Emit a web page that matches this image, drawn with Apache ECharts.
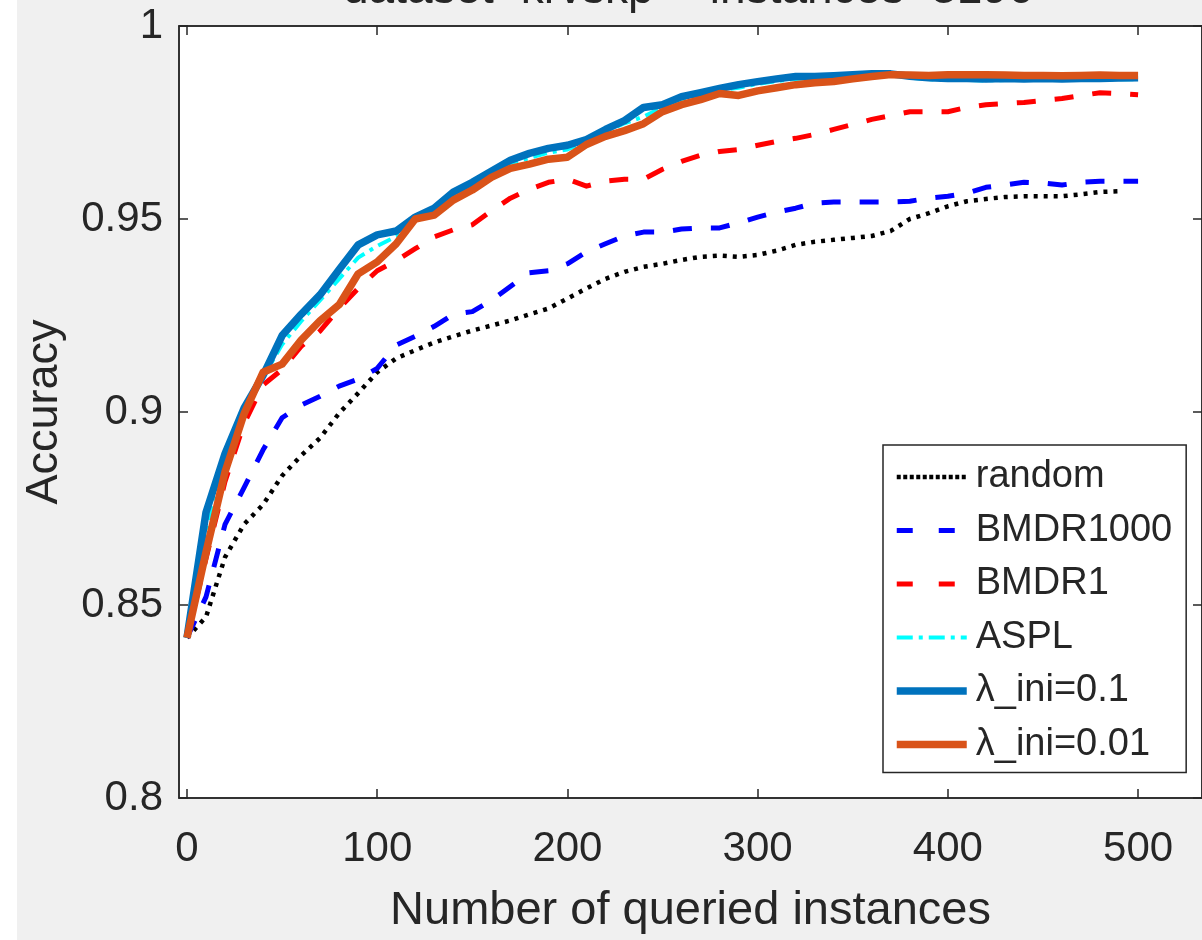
<!DOCTYPE html>
<html>
<head>
<meta charset="utf-8">
<script src="https://cdn.jsdelivr.net/npm/echarts@6/dist/echarts.min.js"></script>
<style>
html,body{margin:0;padding:0;background:#f0f0f0;}
#chart{width:1202px;height:940px;}
</style>
</head>
<body>
<div id="chart"></div>
<script>
var xs = [0,10,20,30,40,50,60,70,80,90,100,110,120,130,140,150,160,170,180,190,200,210,220,230,240,250,260,270,280,290,300,310,320,330,340,350,360,370,380,390,400,410,420,430,440,450,460,470,480,490,500];
var xTicks = [0,100,200,300,400,500];
var seriesNames = ['random','BMDR1000','BMDR1','ASPL','\u03bb_ini=0.1','\u03bb_ini=0.01'];
var randomVals = [0.8415,0.8469,0.8624,0.8709,0.8760,0.8835,0.8887,0.8933,0.8997,0.9049,0.9103,0.9139,0.9160,0.9180,0.9196,0.9211,0.9224,0.9237,0.9253,0.9268,0.9294,0.9320,0.9345,0.9363,0.9376,0.9384,0.9394,0.9402,0.9405,0.9402,0.9407,0.9418,0.9433,0.9441,0.9446,0.9451,0.9456,0.9469,0.9500,0.9515,0.9533,0.9546,0.9552,0.9557,0.9559,0.9559,0.9559,0.9564,0.9570,0.9572,null];
var bmdr1000Vals = [0.8415,0.8521,0.8709,0.8804,0.8902,0.8985,0.9018,0.9041,0.9067,0.9085,0.9113,0.9173,0.9196,0.9222,0.9253,0.9260,0.9289,0.9325,0.9361,0.9366,0.9384,0.9415,0.9436,0.9456,0.9466,0.9466,0.9474,0.9477,0.9477,0.9490,0.9505,0.9518,0.9528,0.9541,0.9544,0.9544,0.9544,0.9544,0.9546,0.9554,0.9559,0.9567,0.9582,0.9588,0.9595,0.9593,0.9588,0.9595,0.9598,0.9598,0.9598];
var bmdr1Vals = [0.8415,0.8620,0.8820,0.8970,0.9070,0.9110,0.9170,0.9210,0.9268,0.9320,0.9366,0.9392,0.9423,0.9454,0.9472,0.9485,0.9521,0.9554,0.9577,0.9595,0.9603,0.9585,0.9598,0.9603,0.9603,0.9629,0.9649,0.9665,0.9675,0.9680,0.9691,0.9701,0.9709,0.9719,0.9732,0.9745,0.9758,0.9768,0.9778,0.9778,0.9778,0.9789,0.9796,0.9799,0.9802,0.9807,0.9812,0.9820,0.9827,0.9825,0.9822];
var asplVals = [0.8415,0.8690,0.8875,0.9000,0.9090,0.9175,0.9235,0.9290,0.9345,0.9400,0.9430,0.9455,0.9495,0.9525,0.9562,0.9590,0.9618,0.9645,0.9658,0.9672,0.9680,0.9702,0.9726,0.9748,0.9765,0.9790,0.9810,0.9822,0.9834,0.9840,0.9850,0.9857,0.9863,0.9865,0.9868,0.9871,0.9873,0.9873,0.9866,0.9862,0.9860,0.9860,0.9859,0.9860,0.9860,0.9861,0.9860,0.9861,0.9861,0.9862,0.9862];
var lam01Vals = [0.8415,0.8740,0.8892,0.9010,0.9095,0.9198,0.9253,0.9304,0.9369,0.9433,0.9459,0.9469,0.9505,0.9528,0.9570,0.9595,0.9624,0.9652,0.9670,0.9683,0.9691,0.9706,0.9732,0.9755,0.9789,0.9796,0.9817,0.9827,0.9838,0.9848,0.9856,0.9863,0.9869,0.9869,0.9871,0.9874,0.9876,0.9876,0.9870,0.9866,0.9864,0.9864,0.9863,0.9864,0.9863,0.9864,0.9863,0.9864,0.9864,0.9865,0.9866];
var lam001Vals = [0.8415,0.8637,0.8845,0.8995,0.9103,0.9124,0.9186,0.9237,0.9278,0.9358,0.9389,0.9436,0.9500,0.9510,0.9549,0.9575,0.9608,0.9631,0.9642,0.9655,0.9660,0.9693,0.9714,0.9729,0.9747,0.9778,0.9796,0.9809,0.9825,0.9820,0.9832,0.9840,0.9848,0.9853,0.9856,0.9863,0.9869,0.9874,0.9873,0.9872,0.9874,0.9874,0.9874,0.9873,0.9872,0.9872,0.9871,0.9872,0.9873,0.9872,0.9872];

function pairs(vals){ return xs.map(function(x,i){ return [x, vals[i]]; }); }

var axisColor = '#262626';
var font = '"Liberation Sans", Arial, Helvetica, sans-serif';

var chart = echarts.init(document.getElementById('chart'), null, {renderer:'canvas'});
var styles = [
  {color:'#000000', width:4.5, type:[4,6]},
  {color:'#0000ff', width:5, type:[19,19]},
  {color:'#ff0000', width:5, type:[19,19]},
  {color:'#00ffff', width:4, type:[14,6,4,6]},
  {color:'#0072bd', width:7.5, type:'solid'},
  {color:'#d95319', width:7.5, type:'solid'}
];
var legendStyles = [
  {color:'#000000', width:4.5, type:[4,2.5]},
  {color:'#0000ff', width:5, type:[16,26]},
  {color:'#ff0000', width:5, type:[16,26]},
  {color:'#00ffff', width:4, type:[16,6,4,6]},
  {color:'#0072bd', width:7.5, type:'solid'},
  {color:'#d95319', width:7.5, type:'solid'}
];
var allVals = [randomVals, bmdr1000Vals, bmdr1Vals, asplVals, lam01Vals, lam001Vals];
var series = seriesNames.map(function(n,i){
  return {
    name:n, type:'line', xAxisIndex:0, yAxisIndex:0,
    data: pairs(allVals[i]), showSymbol:false, symbol:'none',
    lineStyle:{color:styles[i].color, width:styles[i].width, type:styles[i].type, cap:'butt', join:'round'},
    itemStyle:{color:styles[i].color},
    animation:false, z: 2+i
  };
});
var legendData = seriesNames.map(function(n,i){
  return {
    name:n,
    itemStyle:{opacity:0},
    lineStyle:{color:legendStyles[i].color, width:legendStyles[i].width, type:legendStyles[i].type, cap:'butt', opacity:1}
  };
});

chart.setOption({
  animation:false,
  backgroundColor:'#f0f0f0',
  textStyle:{fontFamily:font},
  graphic:[{type:'rect', shape:{x:0,y:0,width:17,height:940}, style:{fill:'#ffffff'}, z:-10}],
  title:{
    text:'dataset=krvskp -- instances=3196',
    left:338, top:-38,
    textStyle:{fontFamily:font, fontSize:46, fontWeight:'normal', color:axisColor}
  },
  grid:{left:179, top:26, right:-1, bottom:138, show:true, backgroundColor:'#ffffff', borderColor:axisColor, borderWidth:1.5},
  legend:{
    orient:'vertical', left:883, top:445,
    backgroundColor:'#ffffff', borderColor:axisColor, borderWidth:1.5, borderRadius:0,
    padding:[10,14,6,10], itemGap:9.5, itemWidth:70, itemHeight:14,
    textStyle:{fontFamily:font, fontSize:38, color:axisColor, lineHeight:44, padding:[0,0,0,4]},
    data: legendData
  },
  xAxis:[{
    type:'value', min:-4.2, max:533.6, position:'bottom',
    name:'Number of queried instances', nameLocation:'middle', nameGap:90,
    nameTextStyle:{fontFamily:font, fontSize:47, color:axisColor},
    axisLine:{show:true, onZero:false, lineStyle:{color:axisColor, width:1.5}},
    axisTick:{show:true, inside:true, length:9, lineStyle:{color:axisColor, width:1.5}, customValues:xTicks},
    axisLabel:{show:true, fontFamily:font, fontSize:42, color:axisColor, margin:30, customValues:xTicks},
    splitLine:{show:false}
  },{
    type:'value', min:-4.2, max:533.6, position:'top',
    axisLine:{show:true, onZero:false, lineStyle:{color:axisColor, width:1.5}},
    axisTick:{show:true, inside:true, length:9, lineStyle:{color:axisColor, width:1.5}, customValues:xTicks},
    axisLabel:{show:false}, splitLine:{show:false}
  }],
  yAxis:[{
    type:'value', min:0.8, max:1, interval:0.05, position:'left',
    name:'Accuracy', nameLocation:'middle', nameGap:112,
    nameTextStyle:{fontFamily:font, fontSize:45, color:axisColor},
    axisLine:{show:true, onZero:false, lineStyle:{color:axisColor, width:1.5}},
    axisTick:{show:true, inside:true, length:9, lineStyle:{color:axisColor, width:1.5}},
    axisLabel:{show:true, fontFamily:font, fontSize:42, color:axisColor, margin:16},
    splitLine:{show:false}
  },{
    type:'value', min:0.8, max:1, interval:0.05, position:'right',
    axisLine:{show:true, onZero:false, lineStyle:{color:axisColor, width:1.5}},
    axisTick:{show:true, inside:true, length:9, lineStyle:{color:axisColor, width:1.5}},
    axisLabel:{show:false}, splitLine:{show:false}
  }],
  series: series
});
</script>
</body>
</html>
